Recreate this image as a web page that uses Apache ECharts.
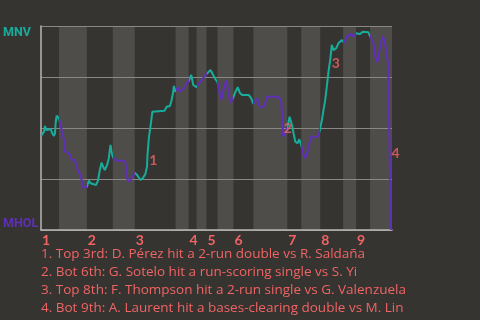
<!DOCTYPE html>
<html><head><meta charset="utf-8">
<script src="https://cdn.jsdelivr.net/npm/echarts@6/dist/echarts.min.js"></script>
<style>html,body{margin:0;padding:0;background:#363431;}#c{width:480px;height:320px;}</style>
</head><body><div id="c"></div>
<script>
// Win probability for MNV (%), by play sequence position
const playSeq = [0,3,4,5.3,7.3,9.7,11.3,13,14,14.7,15.7,17.3,18,19.7,21.3,23,24,26.3,28,29,30.7,34,35.3,37.3,39.7,40.7,42,44,46,48,49.7,51.3,55.3,57.3,59,60.7,62.3,64,66.3,68,69.7,70.7,72,74,75.3,78,83,84.7,86.3,87.3,89.7,92,94,96.3,99.7,102,104.7,106.3,106.7,107.3,108.3,110,111.7,112.7,124,126,129.3,131,132.3,133.3,134.3,135,137.3,139.3,141,143.3,145.7,148,150.7,152.7,154,156,158.3,161.7,165,166,170,172.7,175,177,178.3,180,181.7,183.3,186,188.3,190,193,195,197.3,199.3,201.7,208.3,210.7,213,216.7,219.3,223.3,226.7,237.3,240.7,241.7,242.7,245,247,249.3,251.7,253.3,255,257.3,259,261,263.3,265,266.7,268.3,270.7,277.3,279.3,280,281.7,283.3,285,286.7,288.3,290,291.7,293.3,296,298.3,301.7,303,304,306.7,310.7,313.3,316,320,322.7,328.3,330,333.3,335,336.7,337.7,340,342.7,345,346.7,348.3,349,350.7,351];
const winProb = [46,48.2,51,49,48.2,49.4,47.4,46.1,47.4,52.6,56,55.2,54.8,51.5,47.4,44.1,38.4,38.4,39.2,36.8,34.3,34.3,31.9,28.6,27,24.5,20.9,20.4,21.1,24.2,22.9,22.1,22.1,24.5,29.4,33,31,29.4,31.9,35.1,41.7,38.4,35.9,34.3,35.1,34,34,32.7,26.1,23.7,24.5,26.1,28.1,27,24.5,25.3,27.5,31,35.9,40,45.7,51.5,58,58.5,58.5,60.4,60.8,63.7,67,70.6,67.8,68.1,70,67.8,67,69.5,71.6,73,76,71.1,70.2,70,71.6,73.9,76,76.5,78.4,76,73.9,72.5,69.5,63.7,65.3,69.5,73.5,66.2,62.4,65.2,67.8,70,67.3,66.2,66.2,64.6,61.8,64.6,60.4,60.4,65.3,65.3,63.7,57.2,45.7,47.4,50,55.5,51.5,47.4,43.3,42.5,44.5,41.7,36.8,35.1,37.6,40.8,45.7,45.7,48.2,49.9,53.9,58.8,63.7,70.6,77.6,83.3,90.7,88.2,89.1,91.5,93.1,92.6,91.8,94.8,96.1,94.8,96.4,96.1,97.2,96.9,96.3,91.5,85.8,82,83.3,89.9,95.1,91.5,85,81.7,55.5,54.8,0];
// half-inning boundaries (play sequence positions)
const topStarts = [0,46,94,148,166,193,247,280,316];
const botStarts = [18,72,135,156,177,213,261,303,330];
const gameEnd = 352;
const inningLabels = ['1','2','3','4','5','6','7','8','9'];
const teamTop = 'MNV', teamBottom = 'MHOL';
// key plays: [play position, win prob at marker, label]
const keyPlays = [[106.5,34.3,'1'],[241.5,50,'2'],[289.5,81.4,'3'],[349.5,37.7,'4']];
const notes = [
 '1. Top 3rd: D. Pérez hit a 2-run double vs R. Saldaña',
 '2. Bot 6th: G. Sotelo hit a run-scoring single vs S. Yi',
 '3. Top 8th: F. Thompson hit a 2-run single vs G. Valenzuela',
 '4. Bot 9th: A. Laurent hit a bases-clearing double vs M. Lin'
];

const TEAL='#17ad9c', PURPLE='#5f2fb8', SALMON='#f06464';
const FONT = '"Open Sans", "Noto Sans", sans-serif';
const LFONT = 'Lato, "Open Sans", sans-serif';
const RFONT = 'Roboto, Lato, sans-serif';

const pieces = [];
for (let i=0;i<9;i++){
  pieces.push({gte: topStarts[i], lt: botStarts[i], color: TEAL});
  pieces.push({gte: botStarts[i], lt: (i<8?topStarts[i+1]:gameEnd+1), color: PURPLE});
}
const bands = botStarts.map((b,i)=>[{xAxis:b},{xAxis: i<8?topStarts[i+1]:gameEnd}]);
const lineData = playSeq.map((x,i)=>[x, winProb[i]]);
const annData = keyPlays.map(([x,y,t])=>({value:[x,y], label:{formatter:t}}));

const chart = echarts.init(document.getElementById('c'));
chart.setOption({
  backgroundColor:'#363431',
  animation:false,
  grid:{left:40, right:88, top:26, bottom:90},
  xAxis:{type:'value', min:0, max:gameEnd, z:2,
    axisLine:{show:true, lineStyle:{color:'#b8b6b2', width:1.5}},
    axisTick:{show:false}, splitLine:{show:false},
    axisLabel:{customValues: topStarts, formatter:(v)=>inningLabels[topStarts.indexOf(v)],
      color:SALMON, fontFamily:LFONT, fontWeight:'bold', fontSize:14, align:'left', margin:3, padding:[0,0,0,1]}
  },
  yAxis:{type:'value', min:0, max:100, interval:25, z:2,
    axisLine:{show:true, lineStyle:{color:'#b8b6b2', width:1.5}},
    axisTick:{show:false},
    splitLine:{lineStyle:{color:'#8a8885', width:1.2}},
    axisLabel:{margin:38, align:'left', fontFamily:RFONT, fontWeight:'bold', fontSize:12.5,
      verticalAlignMaxLabel:'top', verticalAlignMinLabel:'bottom',
      formatter:(v)=> v===100?'{a|'+teamTop+'}':(v===0?'{b|'+teamBottom+'}':''),
      rich:{a:{color:TEAL, fontFamily:RFONT, fontWeight:'bold', fontSize:12.5},
            b:{color:PURPLE, fontFamily:RFONT, fontWeight:'bold', fontSize:12.5}}}
  },
  visualMap:{type:'piecewise', show:false, dimension:0, seriesIndex:0, pieces:pieces},
  series:[
    {type:'line', data:lineData, symbol:'none', lineStyle:{width:2}, z:3},
    {type:'scatter', data:annData, symbolSize:0, z:4,
     label:{show:true, position:'right', distance:2, color:SALMON, fontFamily:LFONT, fontWeight:'bold', fontSize:14}},
    {type:'line', data:[], z:0, silent:true,
     markArea:{silent:true, z:0, itemStyle:{color:'#4f4d4a'}, data:bands}}
  ],
  graphic: notes.map((t,i)=>({type:'text', left:41, top:247+i*18,
     style:{text:t, fill:SALMON, font:'13.5px '+FONT}}))
});
</script></body></html>
